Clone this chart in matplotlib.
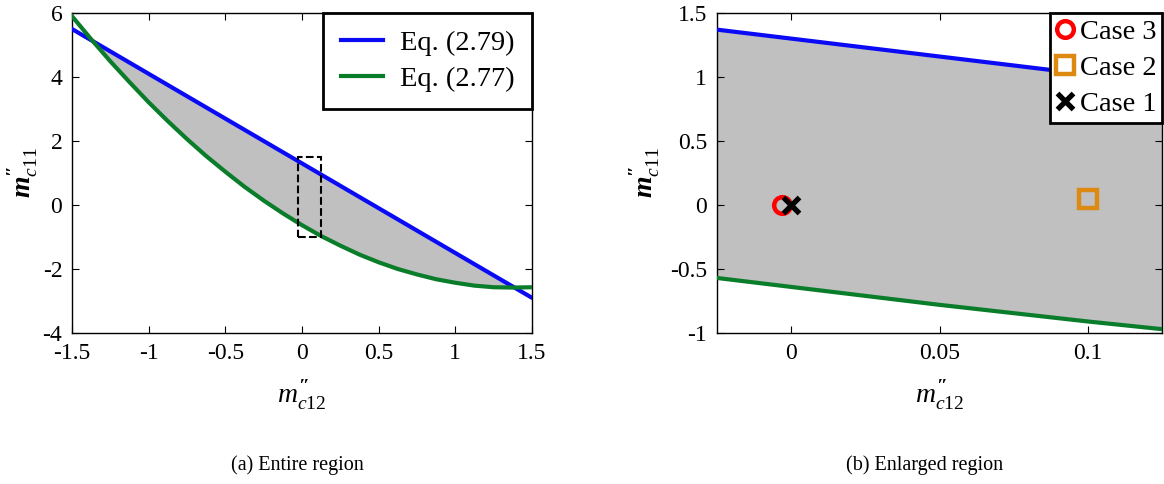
import numpy as np
import matplotlib
matplotlib.use("Agg")
import matplotlib.pyplot as plt
from matplotlib.patches import Rectangle

plt.rcParams['font.family'] = ['Liberation Serif', 'DejaVu Serif']
plt.rcParams['mathtext.fontset'] = 'custom'
plt.rcParams['mathtext.rm'] = 'Liberation Serif'
plt.rcParams['mathtext.it'] = 'Liberation Serif:italic'
plt.rcParams['mathtext.bf'] = 'Liberation Serif:bold'
plt.rcParams['mathtext.bfit'] = 'Liberation Serif:bold:italic'
plt.rcParams['axes.unicode_minus'] = False

# (a) entire region
x_full = [-1.5, -1.375, -1.25, -1.125, -1.0, -0.875, -0.75, -0.625, -0.5, -0.375, -0.25, -0.125,
          0.0, 0.125, 0.25, 0.375, 0.5, 0.625, 0.75, 0.875, 1.0, 1.125, 1.25, 1.375, 1.5]
eq279_full = [5.5, 5.15, 4.8, 4.45, 4.1, 3.75, 3.4, 3.05, 2.7, 2.35, 2.0, 1.65,
              1.3, 0.95, 0.6, 0.25, -0.1, -0.45, -0.8, -1.15, -1.5, -1.85, -2.2, -2.55, -2.9]
eq277_full = [5.9, 5.18, 4.49, 3.84, 3.21, 2.62, 2.06, 1.53, 1.04, 0.57, 0.14, -0.26,
              -0.63, -0.97, -1.27, -1.55, -1.79, -2.0, -2.17, -2.32, -2.43, -2.52, -2.57, -2.58, -2.57]

# (b) enlarged region
x_zoom = [-0.025, 0.0, 0.05, 0.1, 0.125]
eq279_zoom = [1.37, 1.30, 1.16, 1.02, 0.95]
eq277_zoom = [-0.57, -0.64, -0.78, -0.91, -0.97]

case_names = ["Case 3", "Case 2", "Case 1"]
case_x = [-0.003, 0.1, 0.0]
case_y = [0.0, 0.05, 0.0]

box_x = [-0.025, 0.125]
box_y = [-1.0, 1.5]

blue = '#0a0af5'
green = '#0a7d2a'
gray = '#c0c0c0'

fig = plt.figure(figsize=(11.64, 4.84), dpi=100)
ax1 = fig.add_axes([72/1164, 151/484, 460/1164, 320/484])
ax2 = fig.add_axes([717/1164, 151/484, 445/1164, 320/484])

# left panel
xf = np.array(x_full); bf = np.array(eq279_full); gf = np.array(eq277_full)
ax1.fill_between(xf, gf, bf, where=bf >= gf, interpolate=True, color=gray, lw=0)
ax1.plot(xf, bf, color=blue, lw=3, label='Eq. (2.79)', zorder=3)
ax1.plot(xf, gf, color=green, lw=3, label='Eq. (2.77)', zorder=3)
ax1.add_patch(Rectangle((box_x[0], box_y[0]), box_x[1]-box_x[0], box_y[1]-box_y[0],
                        fill=False, ls='--', lw=1.5, ec='black', zorder=4))
ax1.set_xlim(-1.5, 1.5)
ax1.set_ylim(-4, 6)
ax1.set_xticks([-1.5, -1, -0.5, 0, 0.5, 1, 1.5])
ax1.set_xticklabels(['-1.5', '-1', '-0.5', '0', '0.5', '1', '1.5'])
ax1.set_yticks([-4, -2, 0, 2, 4, 6])
leg1 = ax1.legend(loc='upper right', borderaxespad=0, fontsize=20.5, handlelength=1.5,
                  handletextpad=0.6, borderpad=0.6, labelspacing=0.35, fancybox=False,
                  framealpha=1)
leg1.get_frame().set_edgecolor('black')
leg1.get_frame().set_linewidth(2)

# right panel
xz = np.array(x_zoom); bz = np.array(eq279_zoom); gz = np.array(eq277_zoom)
ax2.fill_between(xz, gz, bz, color=gray, lw=0)
ax2.plot(xz, bz, color=blue, lw=3, zorder=3)
ax2.plot(xz, gz, color=green, lw=3, zorder=3)
ax2.plot(case_x[0], case_y[0], 'o', ms=12, mfc='none', mec='#ff0000', mew=3.2,
         ls='none', label=case_names[0], zorder=5)
ax2.plot(case_x[1], case_y[1], 's', ms=13, mfc='none', mec='#dc8a12', mew=3.2,
         ls='none', label=case_names[1], zorder=5)
ax2.plot(case_x[2], case_y[2], 'x', ms=11, mec='black', mew=3.8,
         ls='none', label=case_names[2], zorder=6)
ax2.set_xlim(-0.025, 0.125)
ax2.set_ylim(-1, 1.5)
ax2.set_xticks([0, 0.05, 0.1])
ax2.set_xticklabels(['0', '0.05', '0.1'])
ax2.set_yticks([-1, -0.5, 0, 0.5, 1, 1.5])
ax2.set_yticklabels(['-1', '-0.5', '0', '0.5', '1', '1.5'])
leg2 = ax2.legend(loc='upper right', borderaxespad=0, fontsize=20.5, handlelength=0.7,
                  handletextpad=0.15, borderpad=0.2, labelspacing=0.36, fancybox=False,
                  framealpha=1)
leg2.get_frame().set_edgecolor('black')
leg2.get_frame().set_linewidth(2)

for ax in (ax1, ax2):
    ax.tick_params(direction='in', top=True, right=True, length=5, labelsize=17, pad=7)
    for s in ax.spines.values():
        s.set_linewidth(1)
    ax.set_xlabel("$m^{\\mathbf{\u2033}}_{c\\mathrm{12}}$", fontsize=20, labelpad=11)
    ax.set_ylabel("$\\mathbfit{m}^{\\mathbf{\u2033}}_{c\\mathrm{11}}$", fontsize=20)

ax1.yaxis.set_label_coords(-0.07, 0.5)
ax2.yaxis.set_label_coords(-0.124, 0.5)

fig.text(297/1164, 19/484, '(a) Entire region', ha='center', va='center', fontsize=14.5)
fig.text(925/1164, 19/484, '(b) Enlarged region', ha='center', va='center', fontsize=14.5)

fig.savefig('out.png', dpi=100)
